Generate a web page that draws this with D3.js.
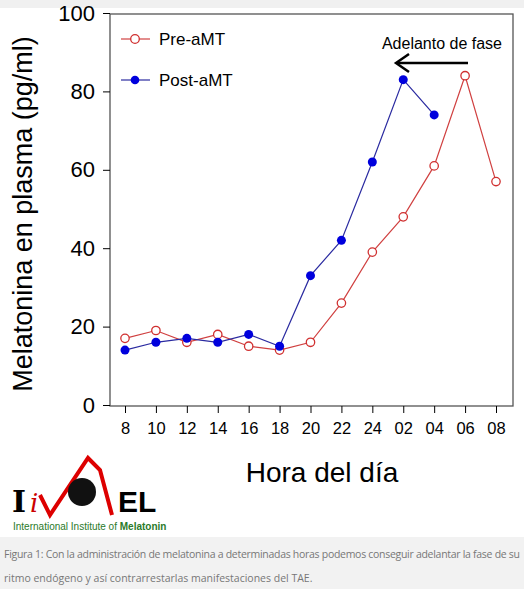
<!DOCTYPE html><html><head><meta charset="utf-8">
<script src="https://cdn.jsdelivr.net/npm/d3@7"></script>
<style>body{margin:0;background:#fff}svg{display:block}</style></head><body>
<svg id="c" width="524" height="589"></svg>
<script>
const hours=["8","10","12","14","16","18","20","22","24","02","04","06","08"];
const pre=[17,19,16,18,15,14,16,26,39,48,61,84,57];
const post=[14,16,17,16,18,15,33,42,62,83,74];
const yTicks=[0,20,40,60,80,100];
const svg=d3.select("#c");
const F="Liberation Sans, Arial, sans-serif";
svg.append("rect").attr("x",0).attr("y",0).attr("width",524).attr("height",8).attr("fill","#f0f0f0");
svg.append("rect").attr("x",0).attr("y",537).attr("width",524).attr("height",52).attr("fill","#f2f2f2");
const x=d3.scalePoint().domain(hours).range([125,496]);
const y=d3.scaleLinear().domain([0,100]).range([405,13]);
svg.append("rect").attr("x",110).attr("y",14).attr("width",403).attr("height",392).attr("fill","none").attr("stroke","#555").attr("stroke-width",1.3);
const ya=svg.append("g").attr("transform","translate(110,0)").call(d3.axisLeft(y).tickValues(yTicks).tickSize(7).tickPadding(8));
ya.select(".domain").remove();
ya.selectAll("text").attr("font-family",F).attr("font-size",22).attr("fill","#000");
const xa=svg.append("g").attr("transform","translate(0,406)").call(d3.axisBottom(x).tickSize(7).tickPadding(9));
xa.select(".domain").remove();
xa.selectAll("text").attr("font-family",F).attr("font-size",16.5).attr("fill","#000");
svg.append("text").attr("transform","translate(32,214) rotate(-90)").attr("text-anchor","middle").attr("font-family",F).attr("font-size",27).text("Melatonina en plasma (pg/ml)");
svg.append("text").attr("x",322).attr("y",482).attr("text-anchor","middle").attr("font-family",F).attr("font-size",28).text("Hora del día");
const line=d3.line().x((d,i)=>x(hours[i])).y(d=>y(d));
svg.append("path").datum(pre).attr("d",line).attr("fill","none").attr("stroke","#d04040").attr("stroke-width",1.2);
svg.append("path").datum(post).attr("d",line).attr("fill","none").attr("stroke","#2a2aa0").attr("stroke-width",1.2);
svg.selectAll(".pp").data(pre).join("circle").attr("cx",(d,i)=>x(hours[i])).attr("cy",d=>y(d)).attr("r",4.2).attr("fill","#fff").attr("stroke","#d03030").attr("stroke-width",1.3);
svg.selectAll(".qp").data(post).join("circle").attr("cx",(d,i)=>x(hours[i])).attr("cy",d=>y(d)).attr("r",4.5).attr("fill","#0000dd");
[[39,"Pre-aMT","#d04040",true],[80,"Post-aMT","#2a2aa0",false]].forEach(([ly,t,c,open])=>{
 svg.append("line").attr("x1",121).attr("x2",150).attr("y1",ly).attr("y2",ly).attr("stroke",c).attr("stroke-width",1.2);
 svg.append("circle").attr("cx",135).attr("cy",ly).attr("r",4.3).attr("fill",open?"#fff":"#0000dd").attr("stroke",open?"#d03030":"none").attr("stroke-width",1.3);
 svg.append("text").attr("x",159).attr("y",ly+6).attr("font-family",F).attr("font-size",17).text(t);
});
svg.append("text").attr("x",502).attr("y",49).attr("text-anchor","end").attr("font-family",F).attr("font-size",16).text("Adelanto de fase");
svg.append("line").attr("x1",468).attr("x2",397).attr("y1",63).attr("y2",63).attr("stroke","#000").attr("stroke-width",2.5);
svg.append("path").attr("d","M409,54 L396,63 L409,72").attr("fill","none").attr("stroke","#000").attr("stroke-width",2.5);
const lg=svg.append("g");
lg.append("text").attr("x",12).attr("y",512).attr("font-family","DejaVu Serif, serif").attr("font-weight","bold").attr("font-size",30).text("I");
lg.append("text").attr("x",30).attr("y",512).attr("font-family","DejaVu Serif, serif").attr("font-style","italic").attr("font-size",26).attr("fill","#c00").text("i");
lg.append("path").attr("d","M40,495 L50,515 L88,458 L100,470 L112,515").attr("fill","none").attr("stroke","#d00").attr("stroke-width",4);
lg.append("circle").attr("cx",82).attr("cy",492).attr("r",14).attr("fill","#111");
lg.append("text").attr("x",118).attr("y",512).attr("font-family",F).attr("font-weight","bold").attr("font-size",30).text("EL");
const tt=lg.append("text").attr("x",13).attr("y",530).attr("font-family",F).attr("font-size",10).attr("fill","#2a7a2a");
tt.append("tspan").text("International Institute of ");
tt.append("tspan").attr("font-weight","bold").text("Melatonin");
svg.append("text").attr("x",4).attr("y",558).attr("font-family","Open Sans, sans-serif").attr("font-size",10.5).attr("fill","#777").attr("textLength",516).text("Figura 1: Con la administración de melatonina a determinadas horas podemos conseguir adelantar la fase de su");
svg.append("text").attr("x",4).attr("y",582).attr("font-family","Open Sans, sans-serif").attr("font-size",10.5).attr("fill","#777").text("ritmo endógeno y así contrarrestarlas manifestaciones del TAE.");
</script></body></html>
